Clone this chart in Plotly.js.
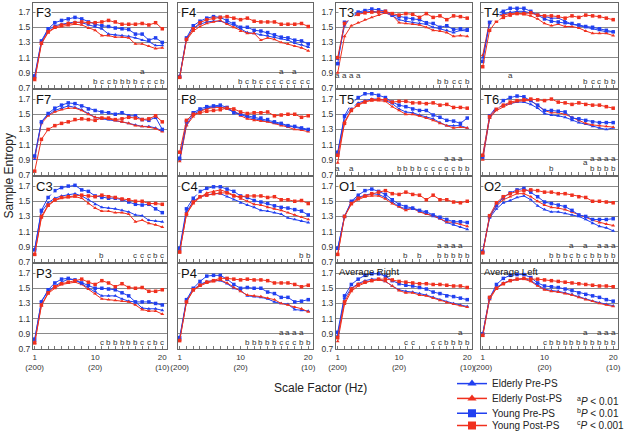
<!DOCTYPE html>
<html><head><meta charset="utf-8">
<script src="https://cdn.plot.ly/plotly-3.0.1.min.js"></script>
<style>html,body{margin:0;padding:0;background:#fff}#chart{width:625px;height:440px}</style>
</head><body><div id="chart"></div>
<script>
// ---------- data ----------
const scaleFactors = [1,2,3,4,5,6,7,8,9,10,11,12,13,14,15,16,17,18,19,20];
const xTickVals = [1,10,20];
const xTickText = ['1<br>(200)','10<br>(20)','20<br>(10)'];
const yTickVals = [0.7,0.9,1.1,1.3,1.5,1.7];
const yTickText = ['0.7','0.9','1.1','1.3','1.5','1.7'];
const panels = ['F3','F4','T3','T4','F7','F8','T5','T6','C3','C4','O1','O2','P3','P4','Average Right','Average Left'];
const seriesNames = ['Elderly Pre-PS','Elderly Post-PS','Young Pre-PS','Young Post-PS'];

const elderlyPre = [
 [0.84,1.31,1.46,1.52,1.54,1.56,1.57,1.56,1.53,1.51,1.48,1.41,1.40,1.39,1.38,1.36,1.33,1.31,1.26,1.26],
 [0.85,1.35,1.48,1.54,1.57,1.58,1.58,1.56,1.53,1.48,1.43,1.42,1.40,1.39,1.37,1.35,1.33,1.29,1.27,1.24],
 [1.08,1.52,1.64,1.68,1.70,1.71,1.70,1.69,1.65,1.60,1.58,1.56,1.55,1.54,1.50,1.48,1.46,1.43,1.46,1.45],
 [1.10,1.55,1.66,1.68,1.70,1.71,1.71,1.69,1.66,1.64,1.62,1.62,1.58,1.54,1.52,1.50,1.48,1.46,1.44,1.44],
 [0.91,1.40,1.49,1.55,1.58,1.61,1.59,1.56,1.51,1.46,1.44,1.43,1.42,1.40,1.38,1.36,1.34,1.34,1.32,1.28],
 [0.90,1.36,1.50,1.55,1.58,1.60,1.60,1.57,1.53,1.50,1.46,1.44,1.43,1.41,1.39,1.36,1.34,1.33,1.31,1.29],
 [0.98,1.46,1.58,1.65,1.68,1.70,1.70,1.68,1.64,1.57,1.53,1.52,1.49,1.46,1.44,1.39,1.35,1.35,1.35,1.32],
 [0.92,1.45,1.57,1.62,1.64,1.66,1.66,1.63,1.58,1.51,1.49,1.48,1.46,1.42,1.39,1.37,1.34,1.32,1.30,1.32],
 [0.87,1.36,1.48,1.54,1.57,1.59,1.60,1.57,1.52,1.46,1.42,1.41,1.40,1.38,1.36,1.32,1.31,1.25,1.24,1.23],
 [0.86,1.36,1.50,1.56,1.58,1.60,1.60,1.56,1.52,1.48,1.45,1.42,1.38,1.37,1.35,1.33,1.28,1.26,1.24,1.22],
 [0.87,1.30,1.49,1.55,1.58,1.60,1.59,1.55,1.49,1.43,1.40,1.40,1.37,1.34,1.30,1.27,1.22,1.19,1.16,1.13],
 [0.84,1.28,1.40,1.48,1.51,1.55,1.57,1.52,1.44,1.39,1.36,1.36,1.34,1.32,1.30,1.26,1.21,1.17,1.15,1.11],
 [0.81,1.33,1.46,1.53,1.58,1.62,1.61,1.56,1.50,1.46,1.40,1.40,1.40,1.36,1.33,1.32,1.24,1.23,1.23,1.21],
 [0.84,1.33,1.48,1.55,1.59,1.60,1.60,1.56,1.50,1.47,1.40,1.39,1.38,1.36,1.32,1.30,1.29,1.22,1.21,1.20],
 [0.88,1.37,1.50,1.56,1.60,1.62,1.62,1.59,1.53,1.48,1.46,1.45,1.43,1.41,1.38,1.35,1.32,1.30,1.28,1.26],
 [0.90,1.38,1.51,1.57,1.60,1.62,1.63,1.60,1.54,1.49,1.47,1.46,1.44,1.42,1.39,1.36,1.33,1.31,1.29,1.27]
];
const elderlyPost = [
 [0.80,1.28,1.43,1.49,1.51,1.52,1.54,1.53,1.49,1.46,1.39,1.39,1.37,1.37,1.36,1.28,1.28,1.25,1.22,1.23],
 [0.84,1.33,1.45,1.51,1.55,1.57,1.59,1.54,1.50,1.45,1.42,1.42,1.33,1.36,1.34,1.30,1.28,1.25,1.23,1.19],
 [0.90,1.38,1.52,1.56,1.60,1.63,1.66,1.69,1.66,1.56,1.55,1.54,1.53,1.50,1.46,1.45,1.43,1.38,1.39,1.38],
 [1.13,1.58,1.64,1.66,1.68,1.68,1.67,1.65,1.61,1.55,1.52,1.54,1.51,1.51,1.49,1.45,1.42,1.42,1.42,1.39],
 [0.93,1.38,1.48,1.53,1.56,1.58,1.58,1.55,1.50,1.46,1.45,1.44,1.42,1.40,1.38,1.35,1.34,1.33,1.31,1.27],
 [0.88,1.35,1.47,1.54,1.57,1.59,1.59,1.58,1.54,1.48,1.44,1.42,1.41,1.40,1.38,1.35,1.33,1.30,1.29,1.27],
 [0.86,1.40,1.56,1.63,1.67,1.68,1.68,1.67,1.60,1.55,1.50,1.50,1.48,1.45,1.42,1.38,1.35,1.32,1.33,1.32],
 [0.90,1.45,1.55,1.60,1.64,1.67,1.68,1.68,1.62,1.55,1.52,1.52,1.50,1.46,1.42,1.38,1.36,1.35,1.34,1.33],
 [0.80,1.28,1.44,1.51,1.54,1.55,1.56,1.54,1.47,1.41,1.37,1.37,1.35,1.35,1.33,1.23,1.25,1.21,1.19,1.16],
 [0.84,1.33,1.47,1.55,1.61,1.63,1.65,1.62,1.58,1.53,1.50,1.46,1.45,1.42,1.40,1.38,1.35,1.32,1.29,1.26],
 [0.80,1.30,1.46,1.52,1.56,1.57,1.57,1.53,1.47,1.43,1.38,1.41,1.36,1.33,1.31,1.27,1.23,1.22,1.20,1.17],
 [0.82,1.29,1.44,1.52,1.56,1.60,1.60,1.56,1.50,1.45,1.42,1.41,1.39,1.36,1.32,1.29,1.25,1.22,1.20,1.18],
 [0.78,1.27,1.43,1.50,1.55,1.57,1.58,1.55,1.49,1.43,1.36,1.35,1.34,1.33,1.32,1.28,1.22,1.20,1.20,1.16],
 [0.82,1.32,1.47,1.53,1.57,1.59,1.61,1.57,1.51,1.46,1.41,1.40,1.39,1.37,1.35,1.30,1.28,1.25,1.23,1.19],
 [0.80,1.29,1.46,1.53,1.57,1.60,1.61,1.59,1.53,1.47,1.44,1.44,1.41,1.40,1.37,1.34,1.31,1.29,1.27,1.25],
 [0.87,1.35,1.50,1.56,1.60,1.62,1.62,1.59,1.53,1.48,1.46,1.45,1.43,1.41,1.38,1.35,1.33,1.30,1.28,1.26]
];
const youngPre = [
 [0.86,1.32,1.48,1.56,1.59,1.61,1.63,1.61,1.57,1.54,1.52,1.51,1.49,1.48,1.47,1.41,1.41,1.33,1.36,1.30],
 [0.85,1.36,1.52,1.58,1.62,1.64,1.63,1.59,1.55,1.50,1.50,1.46,1.45,1.43,1.40,1.37,1.36,1.33,1.32,1.28],
 [1.02,1.58,1.66,1.70,1.72,1.74,1.73,1.71,1.66,1.64,1.62,1.61,1.60,1.56,1.55,1.50,1.52,1.47,1.48,1.47],
 [1.05,1.57,1.68,1.71,1.75,1.75,1.75,1.71,1.66,1.61,1.58,1.57,1.56,1.55,1.53,1.51,1.50,1.48,1.46,1.44],
 [0.95,1.40,1.51,1.58,1.62,1.65,1.64,1.61,1.57,1.55,1.53,1.52,1.50,1.52,1.48,1.48,1.43,1.42,1.46,1.30],
 [0.92,1.40,1.52,1.57,1.60,1.61,1.62,1.59,1.52,1.50,1.48,1.47,1.45,1.43,1.40,1.38,1.35,1.34,1.32,1.30],
 [1.00,1.48,1.64,1.72,1.77,1.77,1.75,1.72,1.66,1.62,1.60,1.57,1.55,1.55,1.49,1.46,1.42,1.41,1.38,1.45],
 [0.94,1.48,1.60,1.68,1.72,1.74,1.73,1.68,1.62,1.55,1.55,1.54,1.53,1.45,1.44,1.42,1.40,1.39,1.39,1.39],
 [0.86,1.38,1.55,1.64,1.68,1.70,1.71,1.65,1.63,1.57,1.55,1.54,1.54,1.52,1.49,1.46,1.45,1.46,1.40,1.35],
 [0.88,1.40,1.54,1.63,1.67,1.69,1.69,1.66,1.63,1.57,1.55,1.51,1.49,1.47,1.44,1.42,1.41,1.39,1.37,1.32],
 [0.88,1.30,1.50,1.58,1.64,1.66,1.63,1.59,1.52,1.46,1.43,1.41,1.38,1.36,1.32,1.29,1.26,1.23,1.23,1.22],
 [0.84,1.30,1.45,1.55,1.61,1.65,1.67,1.62,1.56,1.49,1.47,1.45,1.43,1.38,1.32,1.30,1.26,1.26,1.26,1.27],
 [0.83,1.32,1.48,1.57,1.62,1.63,1.61,1.57,1.54,1.50,1.50,1.49,1.48,1.44,1.40,1.32,1.32,1.32,1.30,1.28],
 [0.85,1.35,1.50,1.59,1.66,1.67,1.67,1.62,1.55,1.50,1.51,1.50,1.50,1.45,1.43,1.38,1.38,1.32,1.33,1.35],
 [0.92,1.40,1.55,1.62,1.67,1.69,1.69,1.66,1.60,1.56,1.54,1.53,1.51,1.49,1.45,1.43,1.40,1.39,1.37,1.35],
 [0.90,1.37,1.55,1.63,1.67,1.68,1.68,1.64,1.57,1.53,1.52,1.51,1.49,1.47,1.44,1.42,1.40,1.38,1.35,1.33]
];
const youngPost = [
 [0.82,1.29,1.44,1.50,1.53,1.55,1.56,1.57,1.56,1.56,1.57,1.59,1.57,1.54,1.54,1.54,1.55,1.53,1.56,1.48],
 [0.84,1.34,1.48,1.56,1.60,1.62,1.63,1.64,1.62,1.60,1.62,1.58,1.57,1.57,1.57,1.54,1.54,1.54,1.55,1.51],
 [1.10,1.55,1.63,1.67,1.69,1.70,1.70,1.71,1.68,1.66,1.68,1.67,1.63,1.68,1.63,1.65,1.60,1.65,1.64,1.62],
 [0.98,1.46,1.58,1.63,1.66,1.68,1.68,1.69,1.66,1.65,1.65,1.64,1.62,1.65,1.63,1.66,1.65,1.64,1.62,1.60],
 [0.75,1.17,1.30,1.35,1.38,1.40,1.43,1.44,1.43,1.42,1.45,1.45,1.43,1.44,1.46,1.45,1.43,1.44,1.48,1.40],
 [1.00,1.42,1.50,1.52,1.54,1.55,1.56,1.58,1.57,1.53,1.51,1.52,1.52,1.53,1.48,1.49,1.50,1.50,1.46,1.48],
 [0.96,1.38,1.55,1.62,1.66,1.69,1.70,1.69,1.66,1.67,1.67,1.65,1.65,1.64,1.65,1.62,1.63,1.59,1.59,1.58],
 [0.96,1.47,1.58,1.62,1.66,1.68,1.69,1.70,1.69,1.68,1.70,1.66,1.65,1.63,1.65,1.63,1.62,1.62,1.60,1.58],
 [0.80,1.30,1.45,1.52,1.55,1.56,1.57,1.58,1.57,1.56,1.58,1.56,1.55,1.53,1.52,1.50,1.50,1.47,1.47,1.46],
 [0.83,1.33,1.49,1.56,1.58,1.60,1.61,1.61,1.57,1.56,1.57,1.57,1.57,1.55,1.56,1.52,1.52,1.50,1.51,1.47],
 [0.80,1.30,1.47,1.54,1.57,1.60,1.62,1.64,1.60,1.59,1.62,1.59,1.58,1.52,1.58,1.52,1.52,1.49,1.48,1.50],
 [0.82,1.31,1.48,1.56,1.60,1.63,1.64,1.65,1.64,1.62,1.62,1.60,1.60,1.58,1.56,1.55,1.50,1.50,1.49,1.48],
 [0.78,1.28,1.44,1.52,1.56,1.58,1.60,1.62,1.58,1.55,1.60,1.57,1.52,1.56,1.51,1.50,1.51,1.46,1.46,1.48],
 [0.81,1.32,1.48,1.54,1.58,1.60,1.63,1.63,1.62,1.61,1.62,1.61,1.61,1.60,1.57,1.57,1.57,1.55,1.52,1.54],
 [0.85,1.32,1.49,1.55,1.58,1.60,1.62,1.62,1.61,1.59,1.58,1.57,1.56,1.56,1.55,1.55,1.54,1.53,1.53,1.51],
 [0.88,1.38,1.50,1.56,1.60,1.62,1.63,1.62,1.62,1.61,1.60,1.59,1.58,1.57,1.56,1.55,1.54,1.53,1.53,1.52]
];
// significance letters, one character per scale factor (space = none)
const sigLower = [
 '         bccbbbbcccb',
 '         bcbcccccccc',
 '               bbccb',
 '               bccbb',
 '                    ',
 '                    ',
 'a a      bbbbcccccbb',
 '          b     bbbb',
 '          b    cccbc',
 '                  bb',
 '          b b  bbbbb',
 '          bbbcbcbbbb',
 '          cbbbbbccbc',
 '          bbbbbcccbb',
 '          cc  ccbbbb',
 '         cbbbbbbbbbb'
];
const sigUpper = [
 '                a   ',
 '               a a  ',
 'aaaa                ',
 '    a               ',
 '                    ',
 '                    ',
 '                aaa ',
 '               aaaaa',
 '                    ',
 '                    ',
 '               aaaa ',
 '             a a aaa',
 '                    ',
 '               aaaa ',
 '                  a ',
 '               a aaa'
];
const pNotes = ['<sup>a</sup><i>P</i> &lt; 0.01','<sup>b</sup><i>P</i> &lt; 0.01','<sup>c</sup><i>P</i> &lt; 0.001'];

// ---------- styling / layout ----------
const W = 625, H = 440;
const FONT = '"Liberation Sans", Arial, sans-serif';
const BLUE = '#2140f0', RED = '#f0301e';
const series = [
  {data: elderlyPre,  color: BLUE, symbol: 'triangle-up'},
  {data: elderlyPost, color: RED,  symbol: 'triangle-up'},
  {data: youngPre,    color: BLUE, symbol: 'square'},
  {data: youngPost,   color: RED,  symbol: 'square'}
];
const colPx = [[33,167],[178,313],[336,472],[481,618]];
const rowPx = [[3,89],[91,177],[179,265],[267,353]];
const LETTER_SIZE = 8;
const Y_LOWER = 0.782, Y_UPPER = 0.865;
const Y_STACK = Y_LOWER + (LETTER_SIZE * 1.3 / 76) / 2;

const traces = [];
const annotations = [];
const layout = {
  width: W, height: H, margin: {l:0, r:0, t:0, b:0},
  paper_bgcolor: '#fff', plot_bgcolor: '#fff',
  font: {family: FONT, color: '#222'},
  showlegend: true
};

panels.forEach((name, i) => {
  const r = Math.floor(i / 4), c = i % 4, n = i + 1;
  const sfx = n === 1 ? '' : String(n);
  const xa = 'x' + sfx, ya = 'y' + sfx;
  layout['xaxis' + sfx] = {
    domain: [colPx[c][0] / W, colPx[c][1] / W], range: [0.75, 20.7], anchor: ya,
    tickmode: 'array', tickvals: xTickVals, ticktext: xTickText, showticklabels: r === 3,
    ticks: 'inside', ticklen: 2.5, tickwidth: 1, tickcolor: '#777',
    minor: {tickmode: 'linear', tick0: 0, dtick: 1, ticks: 'inside', ticklen: 2.5, tickwidth: 1, tickcolor: '#777', showgrid: false},
    showline: true, mirror: true, linecolor: '#666', linewidth: 1,
    showgrid: false, zeroline: false, fixedrange: true,
    tickfont: {family: FONT, size: 8, color: '#333'}
  };
  layout['yaxis' + sfx] = {
    domain: [1 - rowPx[r][1] / H, 1 - rowPx[r][0] / H], range: [0.7, 1.82], anchor: xa,
    tickmode: 'array', tickvals: yTickVals, ticktext: yTickText, showticklabels: (c === 0 || c === 2),
    ticks: '', showline: true, mirror: true, linecolor: '#666', linewidth: 1,
    showgrid: true, gridcolor: '#8a8a8a', gridwidth: 1, zeroline: false, fixedrange: true,
    tickfont: {family: FONT, size: 8.5, color: '#333'}
  };
  series.forEach(s => {
    traces.push({
      x: scaleFactors, y: s.data[i], xaxis: xa, yaxis: ya, type: 'scatter',
      mode: 'lines+markers', line: {color: s.color, width: 1},
      marker: {symbol: s.symbol, size: 3.5, color: s.color},
      showlegend: false, hoverinfo: 'skip'
    });
  });
  // panel title
  const long = name.length > 3;
  annotations.push({
    xref: 'paper', yref: 'paper', x: (colPx[c][0] + 1.5) / W, y: 1 - (rowPx[r][0] + 1.5) / H,
    xanchor: 'left', yanchor: 'top', text: name, showarrow: false,
    font: {family: FONT, size: long ? 9.5 : 13, color: '#111'},
    bgcolor: long ? 'rgba(0,0,0,0)' : '#fff', borderpad: 0
  });
  // significance letters (stacked letters share one text)
  for (let k = 0; k < scaleFactors.length; k++) {
    const lo = sigLower[i].charAt(k), up = sigUpper[i].charAt(k);
    const hasLo = lo && lo !== ' ', hasUp = up && up !== ' ';
    if (!hasLo && !hasUp) continue;
    let text, yv;
    if (hasLo && hasUp) { text = up + '<br>' + lo; yv = Y_STACK; }
    else if (hasLo) { text = lo; yv = Y_LOWER; }
    else { text = up; yv = Y_UPPER; }
    annotations.push({
      xref: xa, yref: ya, x: scaleFactors[k], y: yv, text: text, showarrow: false,
      xanchor: 'center', yanchor: 'middle', borderpad: 0,
      font: {family: FONT, size: LETTER_SIZE, color: '#333'}
    });
  }
});

// axis titles
annotations.push({xref:'paper', yref:'paper', x: 8.5 / W, y: 1 - 178 / H, text: 'Sample Entropy',
  textangle: -90, showarrow: false, xanchor: 'center', yanchor: 'middle',
  font: {family: FONT, size: 12, color: '#222'}});
annotations.push({xref:'paper', yref:'paper', x: 320 / W, y: 1 - 392 / H, text: 'Scale Factor (Hz)',
  showarrow: false, xanchor: 'center', yanchor: 'middle',
  font: {family: FONT, size: 12, color: '#222'}});
// p-value notes
const pY = [405.5, 417.5, 429.5];
pNotes.forEach((t, k) => annotations.push({xref:'paper', yref:'paper', x: 575 / W, y: 1 - pY[k] / H,
  text: t, showarrow: false, xanchor: 'left', yanchor: 'middle', font: {family: FONT, size: 10, color: '#222'}}));

// legends: one per entry so spacing matches the reference
const legY = [388, 403, 418, 430.5];
series.forEach((s, k) => {
  const key = k === 0 ? 'legend' : 'legend' + (k + 1);
  traces.push({
    x: [null], y: [null], xaxis: 'x', yaxis: 'y', type: 'scatter', name: seriesNames[k],
    mode: 'lines+markers', line: {color: s.color, width: 1.5},
    marker: {symbol: s.symbol, size: 8, color: s.color},
    legend: key, showlegend: true, hoverinfo: 'skip'
  });
  layout[key] = {
    x: 452 / W, y: 1 - legY[k] / H, xanchor: 'left', yanchor: 'middle',
    bgcolor: 'rgba(0,0,0,0)', borderwidth: 0, itemwidth: 30,
    font: {family: FONT, size: 10, color: '#222'}
  };
});

layout.annotations = annotations;
Plotly.newPlot('chart', traces, layout, {displayModeBar: false, staticPlot: true});
</script>
</body></html>
